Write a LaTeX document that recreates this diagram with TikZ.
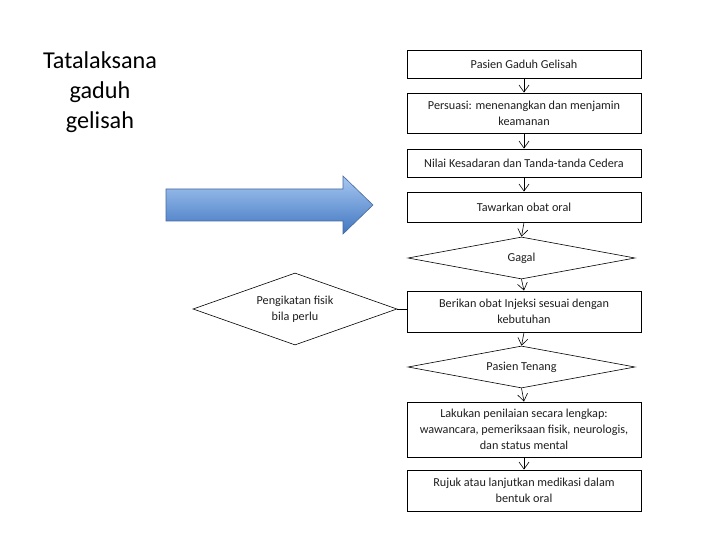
\documentclass[tikz,border=0pt]{standalone}
\usepackage{fontspec}
\setmainfont{Carlito}
\usetikzlibrary{shapes.geometric,arrows.meta}
\definecolor{arrowtop}{RGB}{168,200,242}
\definecolor{arrowbot}{RGB}{64,118,192}
\definecolor{arrowline}{RGB}{70,105,155}
\definecolor{boxtext}{RGB}{30,30,30}
\tikzset{
  procbox/.style={draw=black, line width=0.9pt, minimum width=234pt, inner sep=0pt,
    align=center, text=boxtext, font=\fontsize{12.2}{16}\selectfont},
  decide/.style={diamond, draw=black, line width=0.6pt, inner sep=0pt,
    align=center, text=boxtext, font=\fontsize{12.2}{16}\selectfont},
  flow/.style={line width=0.6pt, -{Straight Barb[length=7pt,width=10pt,line width=0.6pt]}}
}
\begin{document}
\begin{tikzpicture}[x=1pt,y=-1pt]
\useasboundingbox (0,0) rectangle (720,540);
% title
\node[align=center, font=\fontsize{24.2}{30}\selectfont] (title) at (100,92) {Tatalaksana\\gaduh\\gelisah};
% big blue arrow
\shadedraw[top color=arrowtop, bottom color=arrowbot, draw=arrowline, line width=0.6pt]
  (166,189) -- (343,189) -- (343,176) -- (373,205) -- (343,234) -- (343,221) -- (166,221) -- cycle;
% main column
\node[procbox, minimum height=28pt] (pasien) at (524,64) {Pasien Gaduh Gelisah};
\node[procbox, minimum height=40pt] (persuasi) at (524,113) {Persuasi: menenangkan dan menjamin\\keamanan};
\node[procbox, minimum height=28pt] (nilai) at (524,163) {Nilai Kesadaran dan Tanda-tanda Cedera};
\node[procbox, minimum height=30pt] (tawar) at (524,207) {Tawarkan obat oral};
\node[decide, aspect=5.4, minimum width=227pt, minimum height=42pt] (gagal) at (521.5,258) {Gagal};
\node[procbox, minimum height=41pt] (injeksi) at (524,311.5) {Berikan obat Injeksi sesuai dengan\\kebutuhan};
\node[decide, aspect=5.4, minimum width=227pt, minimum height=42pt] (tenang) at (521.5,367) {Pasien Tenang};
\node[procbox, minimum height=55pt] (nilailengkap) at (524,429.5) {Lakukan penilaian secara lengkap:\\wawancara, pemeriksaan fisik, neurologis,\\dan status mental};
\node[procbox, minimum height=41pt] (rujuk) at (524,490.5) {Rujuk atau lanjutkan medikasi dalam\\bentuk oral};
% side branch
\node[decide, aspect=2.8, minimum width=204pt, minimum height=72pt] (ikat) at (295,309) {Pengikatan fisik\\bila perlu};
% connectors
\draw[flow] (pasien) -- (persuasi);
\draw[flow] (persuasi) -- (nilai);
\draw[flow] (nilai) -- (tawar);
\draw[flow] (tawar.south) -- (gagal.north);
\draw[flow] (gagal.south) -- (injeksi.north);
\draw[flow] (injeksi.south) -- (tenang.north);
\draw[flow] (tenang.south) -- (nilailengkap.north);
\draw[flow] (nilailengkap) -- (rujuk);
\draw[line width=0.6pt] (ikat.east) -- (injeksi.west |- ikat.east);
\end{tikzpicture}
\end{document}
